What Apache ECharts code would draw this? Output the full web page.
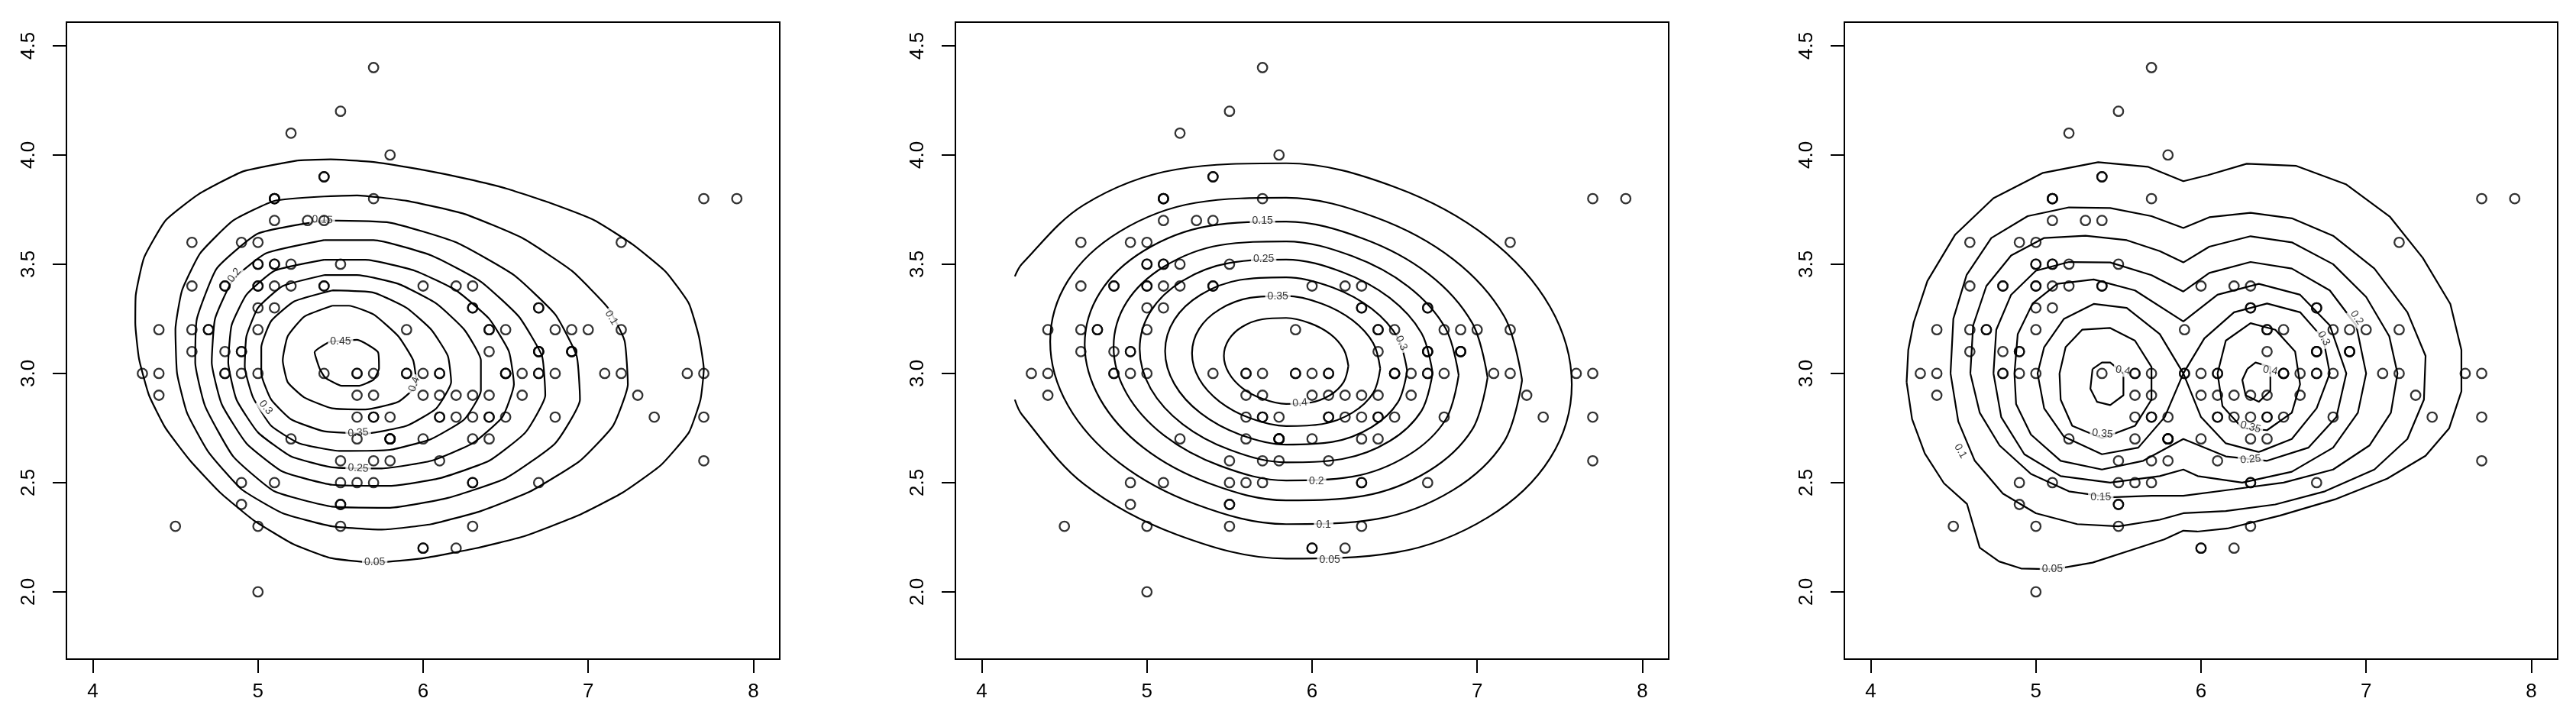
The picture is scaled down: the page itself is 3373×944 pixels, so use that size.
<!DOCTYPE html>
<html><head><meta charset="utf-8">
<script src="https://cdn.jsdelivr.net/npm/echarts@6/dist/echarts.min.js"></script>
<style>html,body{margin:0;padding:0;background:#fff}#c{width:3373px;height:944px}</style>
</head><body><div id="c"></div>
<script>
// ---- data: iris sepal length / width ----
const sepalLength = [5.1,4.9,4.7,4.6,5.0,5.4,4.6,5.0,4.4,4.9,5.4,4.8,4.8,4.3,5.8,5.7,5.4,5.1,5.7,5.1,
5.4,5.1,4.6,5.1,4.8,5.0,5.0,5.2,5.2,4.7,4.8,5.4,5.2,5.5,4.9,5.0,5.5,4.9,4.4,5.1,
5.0,4.5,4.4,5.0,5.1,4.8,5.1,4.6,5.3,5.0,7.0,6.4,6.9,5.5,6.5,5.7,6.3,4.9,6.6,5.2,
5.0,5.9,6.0,6.1,5.6,6.7,5.6,5.8,6.2,5.6,5.9,6.1,6.3,6.1,6.4,6.6,6.8,6.7,6.0,5.7,
5.5,5.5,5.8,6.0,5.4,6.0,6.7,6.3,5.6,5.5,5.5,6.1,5.8,5.0,5.6,5.7,5.7,6.2,5.1,5.7,
6.3,5.8,7.1,6.3,6.5,7.6,4.9,7.3,6.7,7.2,6.5,6.4,6.8,5.7,5.8,6.4,6.5,7.7,7.7,6.0,
6.9,5.6,7.7,6.3,6.7,7.2,6.2,6.1,6.4,7.2,7.4,7.9,6.4,6.3,6.1,7.7,6.3,6.4,6.0,6.9,
6.7,6.9,5.8,6.8,6.7,6.7,6.3,6.5,6.2,5.9];
const sepalWidth = [3.5,3.0,3.2,3.1,3.6,3.9,3.4,3.4,2.9,3.1,3.7,3.4,3.0,3.0,4.0,4.4,3.9,3.5,3.8,3.8,
3.4,3.7,3.6,3.3,3.4,3.0,3.4,3.5,3.4,3.2,3.1,3.4,4.1,4.2,3.1,3.2,3.5,3.6,3.0,3.4,
3.5,2.3,3.2,3.5,3.8,3.0,3.8,3.2,3.7,3.3,3.2,3.2,3.1,2.3,2.8,2.8,3.3,2.4,2.9,2.7,
2.0,3.0,2.2,2.9,2.9,3.1,3.0,2.7,2.2,2.5,3.2,2.8,2.5,2.8,2.9,3.0,2.8,3.0,2.9,2.6,
2.4,2.4,2.7,2.7,3.0,3.4,3.1,2.3,3.0,2.5,2.6,3.0,2.6,2.3,2.7,3.0,2.9,2.9,2.5,2.8,
3.3,2.7,3.0,2.9,3.0,3.0,2.5,2.9,2.5,3.6,3.2,2.7,3.0,2.5,2.8,3.2,3.0,3.8,2.6,2.2,
3.2,2.8,2.8,2.7,3.3,3.2,2.8,3.0,2.8,3.0,2.8,3.8,2.8,2.8,2.6,3.0,3.4,3.1,3.0,3.1,
3.1,3.1,2.7,3.2,3.3,3.0,2.5,3.0,3.4,3.0];
const xTicks = [4,5,6,7,8];
const yTicks = [2.0,2.5,3.0,3.5,4.0,4.5];

// ---- contour lines (data units) ----
// panel 1
const p1_005 = [[5.24,3.975],[4.91,3.925],[4.64,3.82],[4.44,3.70],[4.31,3.53],[4.26,3.36],[4.257,3.23],[4.28,3.065],[4.34,2.90],[4.44,2.75],[4.59,2.60],[4.77,2.455],[4.97,2.33],[5.21,2.22],[5.44,2.155],[5.71,2.134],[6.01,2.155],[6.31,2.198],[6.61,2.254],[6.94,2.35],[7.21,2.455],[7.44,2.58],[7.61,2.73],[7.68,2.88],[7.70,3.02],[7.67,3.17],[7.61,3.32],[7.47,3.465],[7.27,3.59],[7.04,3.70],[6.77,3.78],[6.51,3.845],[6.27,3.89],[6.01,3.93],[5.71,3.967],[5.44,3.98],[5.24,3.975]];
const p1_010 = [[5.4,3.81],[5.1,3.79],[4.85,3.70],[4.65,3.55],[4.54,3.38],[4.50,3.2],[4.51,3.0],[4.57,2.82],[4.70,2.64],[4.90,2.47],[5.15,2.36],[5.45,2.30],[5.75,2.285],[6.05,2.31],[6.35,2.37],[6.65,2.46],[6.95,2.60],[7.15,2.76],[7.24,2.95],[7.22,3.15],[7.12,3.30],[6.90,3.47],[6.60,3.62],[6.25,3.73],[5.90,3.79],[5.6,3.815],[5.4,3.81]];
const p1_015 = [[5.4,3.70],[5.0,3.64],[4.75,3.48],[4.63,3.25],[4.62,3.05],[4.68,2.85],[4.85,2.62],[5.1,2.46],[5.45,2.39],[5.8,2.385],[6.15,2.43],[6.5,2.52],[6.8,2.68],[6.95,2.88],[6.93,3.08],[6.80,3.27],[6.55,3.45],[6.2,3.60],[5.8,3.69],[5.4,3.70]];
const p1_020 = [[5.4,3.61],[5.05,3.55],[4.85,3.43],[4.74,3.25],[4.72,3.05],[4.78,2.86],[4.93,2.68],[5.15,2.55],[5.45,2.49],[5.8,2.485],[6.1,2.52],[6.4,2.60],[6.62,2.73],[6.74,2.90],[6.72,3.08],[6.58,3.26],[6.35,3.42],[6.05,3.54],[5.7,3.61],[5.4,3.61]];
const p1_025 = [[5.4,3.52],[5.1,3.47],[4.93,3.36],[4.84,3.22],[4.82,3.05],[4.87,2.88],[5.0,2.73],[5.2,2.62],[5.45,2.57],[5.75,2.565],[6.05,2.60],[6.3,2.68],[6.48,2.80],[6.55,2.95],[6.52,3.10],[6.40,3.25],[6.2,3.38],[5.95,3.47],[5.65,3.52],[5.4,3.52]];
const p1_030 = [[5.4,3.45],[5.15,3.40],[5.0,3.30],[4.93,3.17],[4.92,3.03],[4.97,2.89],[5.08,2.76],[5.25,2.68],[5.5,2.645],[5.8,2.65],[6.05,2.70],[6.25,2.79],[6.35,2.92],[6.35,3.06],[6.25,3.20],[6.08,3.32],[5.85,3.41],[5.6,3.45],[5.4,3.45]];
const p1_035 = [[5.45,3.38],[5.22,3.33],[5.08,3.24],[5.02,3.12],[5.02,3.0],[5.08,2.88],[5.2,2.79],[5.4,2.735],[5.65,2.725],[5.9,2.76],[6.08,2.84],[6.17,2.96],[6.15,3.08],[6.05,3.20],[5.9,3.30],[5.7,3.37],[5.45,3.38]];
const p1_040 = [[5.45,3.31],[5.28,3.26],[5.18,3.17],[5.15,3.06],[5.18,2.96],[5.28,2.89],[5.45,2.84],[5.65,2.835],[5.85,2.87],[5.96,2.95],[5.94,3.06],[5.85,3.17],[5.7,3.27],[5.55,3.31],[5.45,3.31]];
const p1_045 = [[5.433,3.145],[5.60,3.154],[5.727,3.097],[5.733,3.023],[5.70,2.971],[5.607,2.943],[5.507,2.943],[5.407,2.981],[5.373,3.023],[5.343,3.097],[5.433,3.145]];
// panel 2
const p2_005 = [[4.2,2.88],[4.244,2.810],[4.619,2.493],[5.181,2.262],[5.843,2.152],[6.505,2.180],[7.067,2.342],[7.442,2.612],[7.573,2.950],[7.442,3.304],[7.067,3.621],[6.505,3.852],[5.843,3.962],[5.181,3.934],[4.619,3.772],[4.244,3.502],[4.2,3.444]];
const p2_010 = [[7.272,2.969],[7.164,3.261],[6.854,3.523],[6.390,3.713],[5.843,3.804],[5.296,3.781],[4.832,3.648],[4.522,3.425],[4.414,3.146],[4.522,2.853],[4.832,2.591],[5.296,2.401],[5.843,2.310],[6.390,2.333],[6.854,2.466],[7.164,2.689],[7.272,2.969]];
const p2_015 = [[7.063,2.981],[6.970,3.231],[6.706,3.455],[6.310,3.617],[5.843,3.695],[5.376,3.675],[4.980,3.561],[4.716,3.371],[4.623,3.133],[4.716,2.883],[4.980,2.659],[5.376,2.497],[5.843,2.419],[6.310,2.439],[6.706,2.553],[6.970,2.743],[7.063,2.981]];
const p2_020 = [[6.888,2.992],[6.809,3.206],[6.582,3.398],[6.243,3.537],[5.843,3.604],[5.443,3.587],[5.104,3.489],[4.877,3.326],[4.798,3.122],[4.877,2.908],[5.104,2.716],[5.443,2.577],[5.843,2.510],[6.243,2.527],[6.582,2.625],[6.809,2.788],[6.888,2.992]];
const p2_025 = [[6.730,3.002],[6.663,3.184],[6.470,3.346],[6.183,3.464],[5.843,3.521],[5.503,3.506],[5.216,3.424],[5.023,3.285],[4.956,3.112],[5.023,2.930],[5.216,2.768],[5.503,2.650],[5.843,2.593],[6.183,2.608],[6.470,2.690],[6.663,2.829],[6.730,3.002]];
const p2_030 = [[6.576,3.012],[6.520,3.162],[6.361,3.296],[6.123,3.394],[5.843,3.440],[5.563,3.428],[5.325,3.360],[5.166,3.246],[5.110,3.102],[5.166,2.952],[5.325,2.818],[5.563,2.720],[5.843,2.674],[6.123,2.686],[6.361,2.754],[6.520,2.868],[6.576,3.012]];
const p2_035 = [[6.413,3.022],[6.370,3.139],[6.246,3.243],[6.061,3.319],[5.843,3.355],[5.625,3.346],[5.440,3.293],[5.316,3.204],[5.273,3.092],[5.316,2.975],[5.440,2.871],[5.625,2.795],[5.843,2.759],[6.061,2.768],[6.246,2.821],[6.370,2.910],[6.413,3.022]];
const p2_040 = [[6.220,3.034],[6.191,3.111],[6.110,3.180],[5.987,3.230],[5.843,3.254],[5.699,3.248],[5.576,3.213],[5.495,3.154],[5.466,3.080],[5.495,3.003],[5.576,2.934],[5.699,2.884],[5.843,2.860],[5.987,2.866],[6.110,2.901],[6.191,2.960],[6.220,3.034]];
// panel 3
const p3_005 = [[4.217,2.96],[4.227,3.107],[4.26,3.234],[4.343,3.423],[4.51,3.634],[4.743,3.802],[5.043,3.918],[5.377,3.967],[5.677,3.946],[5.893,3.880],[6.043,3.908],[6.277,3.960],[6.577,3.950],[6.877,3.866],[7.143,3.718],[7.343,3.529],[7.51,3.318],[7.577,3.107],[7.577,2.918],[7.503,2.749],[7.36,2.623],[7.127,2.518],[6.81,2.423],[6.477,2.349],[6.16,2.29],[5.977,2.276],[5.893,2.28],[5.777,2.24],[5.577,2.191],[5.343,2.134],[5.11,2.103],[4.91,2.107],[4.777,2.139],[4.66,2.202],[4.583,2.402],[4.443,2.497],[4.327,2.634],[4.25,2.791],[4.217,2.96]];
const p3_010 = [[4.483,3.0],[4.50,3.25],[4.58,3.45],[4.73,3.62],[4.95,3.72],[5.2,3.76],[5.45,3.757],[5.7,3.72],[5.893,3.666],[6.05,3.715],[6.3,3.735],[6.55,3.71],[6.8,3.63],[7.05,3.48],[7.25,3.28],[7.36,3.08],[7.35,2.88],[7.25,2.70],[7.05,2.56],[6.75,2.46],[6.45,2.40],[6.15,2.37],[5.893,2.36],[5.75,2.33],[5.5,2.30],[5.25,2.31],[5.0,2.36],[4.8,2.45],[4.63,2.60],[4.53,2.78],[4.483,3.0]];
const p3_015 = [[4.603,3.0],[4.62,3.22],[4.70,3.40],[4.85,3.54],[5.05,3.62],[5.30,3.63],[5.55,3.61],[5.75,3.56],[5.893,3.508],[6.05,3.58],[6.3,3.628],[6.55,3.60],[6.8,3.50],[7.0,3.35],[7.14,3.17],[7.19,3.0],[7.15,2.82],[7.02,2.67],[6.8,2.56],[6.5,2.50],[6.2,2.47],[5.893,2.44],[5.7,2.44],[5.45,2.433],[5.2,2.46],[4.97,2.54],[4.78,2.67],[4.66,2.82],[4.603,3.0]];
const p3_020 = [[4.743,3.0],[4.76,3.2],[4.85,3.36],[5.0,3.47],[5.2,3.51],[5.45,3.508],[5.7,3.45],[5.893,3.375],[6.05,3.46],[6.3,3.51],[6.55,3.48],[6.78,3.38],[6.94,3.22],[7.0,3.0],[6.95,2.82],[6.8,2.66],[6.55,2.55],[6.25,2.50],[5.98,2.53],[5.893,2.56],[5.75,2.53],[5.45,2.50],[5.15,2.53],[4.93,2.63],[4.79,2.80],[4.743,3.0]];
const p3_025 = [[4.87,3.0],[4.89,3.18],[4.98,3.32],[5.13,3.41],[5.35,3.43],[5.6,3.38],[5.893,3.238],[6.1,3.36],[6.35,3.41],[6.6,3.36],[6.78,3.22],[6.88,3.0],[6.82,2.80],[6.65,2.66],[6.40,2.60],[6.15,2.62],[5.893,2.70],[5.65,2.60],[5.40,2.56],[5.15,2.60],[4.97,2.72],[4.88,2.86],[4.87,3.0]];
const p3_030 = [[5.893,3.0],[5.75,3.18],[5.55,3.30],[5.35,3.318],[5.17,3.25],[5.05,3.12],[5.01,3.0],[5.05,2.84],[5.17,2.71],[5.40,2.63],[5.62,2.66],[5.78,2.80],[5.893,3.0],[6.0,2.80],[6.15,2.68],[6.35,2.64],[6.55,2.70],[6.70,2.84],[6.78,3.0],[6.74,3.16],[6.60,3.28],[6.40,3.32],[6.20,3.28],[6.02,3.16],[5.893,3.0]];
const p3_035a = [[5.143,3.0],[5.18,3.12],[5.28,3.20],[5.45,3.208],[5.60,3.15],[5.70,3.03],[5.70,2.88],[5.60,2.76],[5.40,2.703],[5.22,2.76],[5.15,2.88],[5.143,3.0]];
const p3_035b = [[6.10,3.0],[6.15,3.15],[6.30,3.23],[6.45,3.20],[6.57,3.10],[6.60,2.95],[6.55,2.82],[6.40,2.74],[6.25,2.75],[6.13,2.85],[6.10,3.0]];
const p3_040a = [[5.343,3.02],[5.40,3.05],[5.45,3.05],[5.53,3.00],[5.53,2.90],[5.45,2.855],[5.37,2.87],[5.33,2.93],[5.343,3.02]];
const p3_040b = [[6.28,3.02],[6.33,3.05],[6.42,3.03],[6.42,2.92],[6.35,2.87],[6.27,2.90],[6.25,2.97],[6.28,3.02]];

// contour labels: [x, y, text]
const p1_labels = [[5.707,2.134,'0.05'],[7.14,3.255,'0.1'],[5.39,3.703,'0.15'],[4.857,3.449,'0.2'],[5.607,2.566,'0.25'],[5.047,2.844,'0.3'],[5.607,2.728,'0.35'],[5.947,2.95,'0.4'],[5.50,3.147,'0.45']];
const p1_labelAngles = [0,-58,-3,52,-4,-50,4,70,0];
const p2_labels = [[6.107,2.145,'0.05'],[6.07,2.308,'0.1'],[5.70,3.70,'0.15'],[6.027,2.507,'0.2'],[5.707,3.524,'0.25'],[6.54,3.139,'0.3'],[5.793,3.354,'0.35'],[5.927,2.865,'0.4']];
const p2_labelAngles = [0,0,0,0,0,-65,0,5];
const p3_labels = [[5.10,2.103,'0.05'],[4.543,2.644,'0.1'],[5.393,2.433,'0.15'],[6.943,3.255,'0.2'],[6.30,2.606,'0.25'],[6.743,3.16,'0.3'],[5.403,2.724,'0.35'],[6.30,2.754,'0.35'],[5.527,3.013,'0.4'],[6.42,3.013,'0.4']];
const p3_labelAngles = [0,-60,0,-55,5,-60,-5,-15,-10,-10];

const panels = [
  {rings:[p1_005,p1_010,p1_015,p1_020,p1_025,p1_030,p1_035,p1_040,p1_045], labels:p1_labels, angles:p1_labelAngles, smooth:0.15},
  {rings:[p2_005,p2_010,p2_015,p2_020,p2_025,p2_030,p2_035,p2_040], labels:p2_labels, angles:p2_labelAngles, smooth:0.35},
  {rings:[p3_005,p3_010,p3_015,p3_020,p3_025,p3_030,p3_035a,p3_035b,p3_040a,p3_040b], labels:p3_labels, angles:p3_labelAngles, smooth:0}
];

const FONT = 'Liberation Sans, Arial, Helvetica, sans-serif';
const gridLefts = [87, 1251, 2415];
const grids = [], xAxes = [], yAxes = [], series = [];
const points = sepalLength.map((x,i)=>[x, sepalWidth[i]]);

panels.forEach((p, gi) => {
  grids.push({left: gridLefts[gi], top: 29, width: 934, height: 834, show: true, borderColor: '#000', borderWidth: 2, backgroundColor: 'rgba(0,0,0,0)'});
  xAxes.push({gridIndex: gi, type: 'value', min: 3.84, max: 8.16,
    axisLine: {show: false}, splitLine: {show: false},
    axisTick: {show: true, length: 18, lineStyle: {color: '#000', width: 2}, customValues: xTicks},
    axisLabel: {show: true, customValues: xTicks, color: '#000', fontSize: 26, fontFamily: FONT, margin: 30, formatter: v => String(v)}
  });
  yAxes.push({gridIndex: gi, type: 'value', min: 1.692, max: 4.608,
    axisLine: {show: false}, splitLine: {show: false},
    axisTick: {show: true, length: 18, lineStyle: {color: '#000', width: 2}, customValues: yTicks},
    axisLabel: {show: true, customValues: yTicks, color: '#000', fontSize: 26, fontFamily: FONT, margin: 36, rotate: 90, formatter: v => v.toFixed(1)}
  });
  p.rings.forEach(r => series.push({type: 'line', xAxisIndex: gi, yAxisIndex: gi, data: r, symbol: 'none', showSymbol: false,
    smooth: p.smooth, lineStyle: {color: '#000', width: 2.2}, silent: true, animation: false, z: 2, clip: true}));
  series.push({type: 'scatter', xAxisIndex: gi, yAxisIndex: gi, symbolSize: 1, silent: true, animation: false, z: 3,
    itemStyle: {color: 'rgba(0,0,0,0)'},
    data: p.labels.map((l, k) => ({value: [l[0], l[1]], name: l[2], label: {rotate: p.angles[k]}})),
    label: {show: true, position: 'inside', formatter: q => q.name, color: '#000', fontSize: 14, fontFamily: FONT, backgroundColor: '#fff', padding: [1, 3]}
  });
  series.push({type: 'scatter', xAxisIndex: gi, yAxisIndex: gi, data: points, symbol: 'circle', symbolSize: 12.5, silent: true, animation: false, z: 4,
    itemStyle: {color: 'rgba(0,0,0,0)', borderColor: '#000', borderWidth: 2.3}});
});

const chart = echarts.init(document.getElementById('c'), null, {renderer: 'canvas'});
chart.setOption({animation: false, backgroundColor: '#fff', grid: grids, xAxis: xAxes, yAxis: yAxes, series: series});
</script></body></html>
